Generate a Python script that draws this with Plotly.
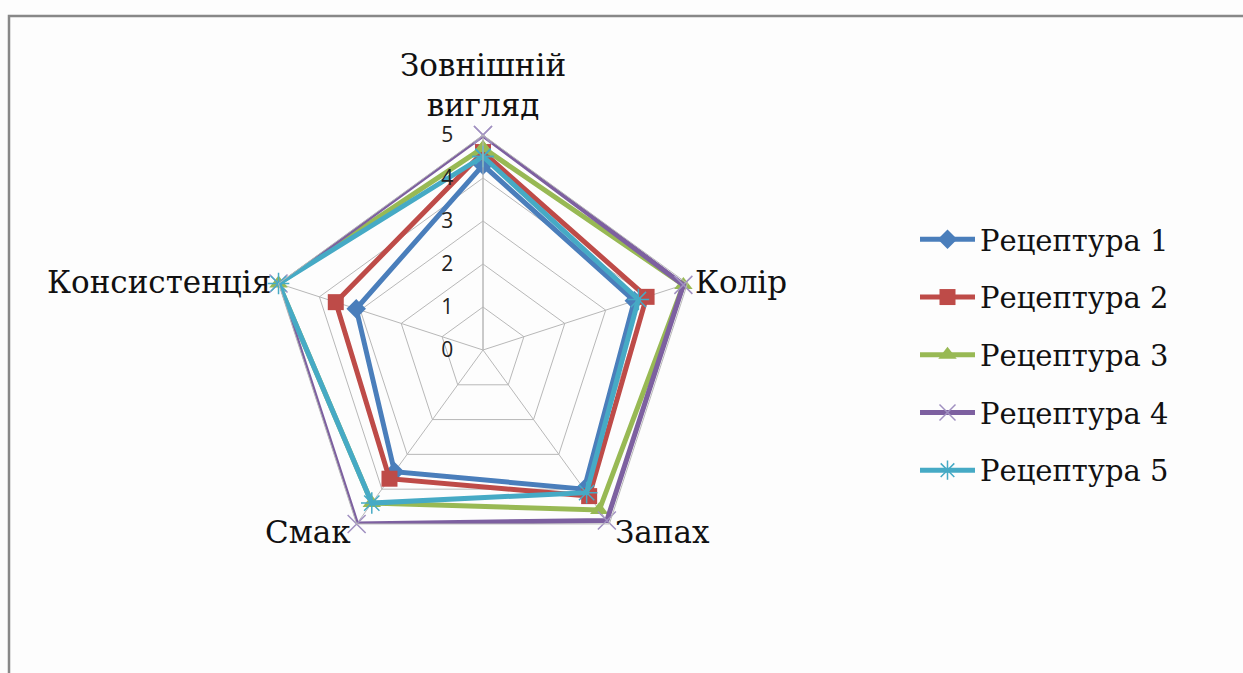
import math
import plotly.graph_objects as go

categories = ["Зовнішній вигляд", "Колір", "Запах", "Смак", "Консистенція"]
series_names = ["Рецептура 1", "Рецептура 2", "Рецептура 3", "Рецептура 4", "Рецептура 5"]
r1 = [4.3, 3.7, 4.0, 3.5, 3.1]
r2 = [4.6, 4.0, 4.2, 3.7, 3.6]
r3 = [4.7, 4.9, 4.6, 4.4, 5.0]
r4 = [5.0, 4.9, 4.9, 5.0, 5.0]
r5 = [4.5, 3.8, 4.1, 4.4, 5.0]
radial_ticks = [0, 1, 2, 3, 4, 5]

values = [r1, r2, r3, r4, r5]
colors = ["#4A7EBB", "#BE4B48", "#98B954", "#7D60A0", "#46AAC5"]
symbols = ["diamond", "square", "triangle-up", "x-thin", "asterisk"]
msizes = [15, 16, 16, 18, 18]

SERIF = "DejaVu Serif"
W, H = 1243, 673
cx, cy, R = 483, 350, 215

fig = go.Figure()
for i, (name, vals) in enumerate(zip(series_names, values)):
    sym = symbols[i]
    marker = dict(symbol=sym, size=msizes[i], color=colors[i])
    if sym.endswith("thin") or sym == "asterisk":
        marker["line"] = dict(width=1.5, color=colors[i] if sym == "asterisk" else "#A090C0")
    fig.add_trace(go.Scatterpolar(
        r=vals + vals[:1],
        theta=categories + categories[:1],
        mode="lines+markers",
        name=name,
        legendgroup=f"g{i}",
        line=dict(color=colors[i], width=5),
        marker=marker,
    ))

annotations = []
n = len(categories)
for k, cat in enumerate(categories):
    ang = math.radians(90 - 360 * k / n)
    dx, dy = math.cos(ang), math.sin(ang)
    if k == 0:
        x, y = cx, cy - R - 50
        text, xa, ya = "Зовнішній<br>вигляд", "center", "middle"
    else:
        x = cx + (R + 6) * dx
        y = cy - (R + 6) * dy
        text = cat
        xa = "left" if dx > 0 else "right"
        if k in (2, 3):
            y += 3
        ya = "middle"
    annotations.append(dict(
        x=x / W, y=1 - y / H, xref="paper", yref="paper",
        text=text, showarrow=False, xanchor=xa, yanchor=ya,
        font=dict(family=SERIF, size=31, color="#111111"),
    ))

fig.update_layout(
    width=W, height=H,
    margin=dict(l=0, r=0, t=0, b=0),
    paper_bgcolor="#FDFDFD",
    plot_bgcolor="#FDFDFD",
    showlegend=True,
    legend=dict(
        x=915 / W, y=1 - 214 / H, xanchor="left", yanchor="top",
        font=dict(family=SERIF, size=29, color="#111111"),
        bgcolor="rgba(0,0,0,0)",
        tracegroupgap=17,
        itemwidth=55,
    ),
    annotations=annotations,
    polar=dict(
        domain=dict(x=[(cx - R) / W, (cx + R) / W],
                    y=[(H - cy - R) / H, (H - cy + R) / H]),
        bgcolor="#FDFDFD",
        gridshape="linear",
        angularaxis=dict(
            direction="clockwise", rotation=90,
            showticklabels=False,
            linecolor="#B8B8B8", linewidth=1,
            gridcolor="#B8B8B8", gridwidth=1,
            ticks="",
        ),
        radialaxis=dict(
            range=[0, 5], tickvals=radial_ticks, angle=90, tickangle=90,
            side="counterclockwise",
            tickfont=dict(family="Open Sans", size=21, color="#222222"),
            ticks="outside", ticklen=22, tickcolor="rgba(0,0,0,0)",
            linecolor="#B8B8B8", linewidth=1,
            gridcolor="#B8B8B8", gridwidth=1,
            showline=True,
        ),
    ),
    shapes=[dict(type="rect", xref="paper", yref="paper",
                 x0=9 / W, x1=1.05, y0=-0.05, y1=1 - 16 / H,
                 line=dict(color="#888888", width=2.5), fillcolor="rgba(0,0,0,0)",
                 layer="below")],
)

fig.write_html("out.html")
